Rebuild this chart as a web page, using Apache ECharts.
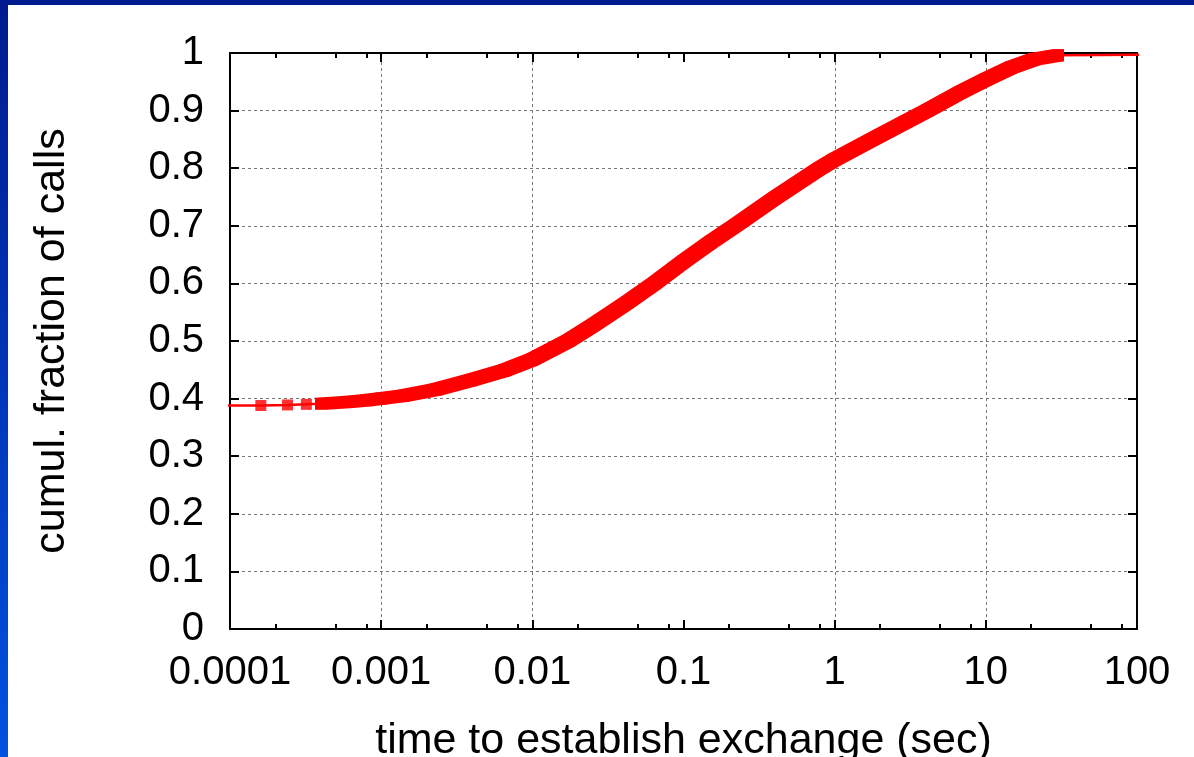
<!DOCTYPE html>
<html>
<head>
<meta charset="utf-8">
<script src="https://cdn.jsdelivr.net/npm/echarts@6/dist/echarts.min.js"></script>
<style>
  html, body { margin: 0; padding: 0; background: #ffffff; overflow: hidden; }
  #chart { position: absolute; left: 0; top: 0; width: 1194px; height: 757px; }
  #topbar { position: absolute; left: 0; top: 0; width: 1194px; height: 5px; background: #001a8f; z-index: 5; }
  #leftbar { position: absolute; left: 0; top: 0; width: 8px; height: 757px; z-index: 5;
             background: linear-gradient(to bottom, #001a8f 0%, #0036b8 50%, #0052e0 100%); }
</style>
</head>
<body>
<div id="chart"></div>
<div id="topbar"></div>
<div id="leftbar"></div>
<script>
// ---- data ----
const xTickLabels = ['0.0001', '0.001', '0.01', '0.1', '1', '10', '100'];
const yTickLabels = ['0', '0.1', '0.2', '0.3', '0.4', '0.5', '0.6', '0.7', '0.8', '0.9', '1'];
const minorTickValues = [2e-4, 5e-4, 8e-4, 2e-3, 5e-3, 8e-3, 0.02, 0.05, 0.08, 0.2, 0.5, 0.8, 2, 5, 8, 20, 50, 80];
const xGridValues = [0.001, 0.01, 1, 10];

// sparse points at the start (individual square markers)
const sparseTimes = [0.00008, 0.00016, 0.00024, 0.00032, 0.0004];
const sparseFrac  = [0.388, 0.388, 0.389, 0.390, 0.391];

// dense part of the CDF (markers overlap into a thick band)
const bandTimes = [0.0004, 0.0006, 0.0008, 0.001, 0.0014, 0.0023, 0.0039, 0.0065, 0.01, 0.0172,
                   0.0255, 0.0424, 0.064, 0.1, 0.15, 0.219, 0.4, 0.79, 1, 2, 4.1, 6.8, 10, 14.7, 20.9, 30];
const bandFrac  = [0.391, 0.394, 0.397, 0.400, 0.405, 0.416, 0.432, 0.449, 0.468, 0.500,
                   0.528, 0.567, 0.600, 0.638, 0.671, 0.700, 0.748, 0.799, 0.815, 0.857, 0.900, 0.932, 0.954, 0.975, 0.989, 0.996];

// tail (thin line)
const tailTimes = [30, 3000];
const tailFrac  = [0.996, 1.0];

const xTitle = 'time to establish exchange (sec)';
const yTitle = 'cumul. fraction of calls';

// ---- build ----
const F = '"Liberation Sans", Arial, Helvetica, sans-serif';
const RED = '#ff0000';
const xMin = 1e-4, xMax = 100;

const pair = (ts, fs) => ts.map((t, i) => [t, fs[i]]);
const linePoints = pair(sparseTimes, sparseFrac).concat(pair(bandTimes, bandFrac).slice(1), pair(tailTimes, tailFrac).slice(1));

function hull(points) {
  const p = points.slice().sort((a, b) => a[0] - b[0] || a[1] - b[1]);
  const cross = (o, a, b) => (a[0] - o[0]) * (b[1] - o[1]) - (a[1] - o[1]) * (b[0] - o[0]);
  const lower = [], upper = [];
  for (const q of p) { while (lower.length >= 2 && cross(lower[lower.length - 2], lower[lower.length - 1], q) <= 0) lower.pop(); lower.push(q); }
  for (let i = p.length - 1; i >= 0; i--) { const q = p[i]; while (upper.length >= 2 && cross(upper[upper.length - 2], upper[upper.length - 1], q) <= 0) upper.pop(); upper.push(q); }
  upper.pop(); lower.pop();
  return lower.concat(upper);
}

const MS = 6; // half marker size in the dense band
function bandItem(params, api) {
  const i = params.dataIndex;
  const j = Math.min(i + 1, bandTimes.length - 1);
  const a = api.coord([bandTimes[i], bandFrac[i]]);
  const b = api.coord([bandTimes[j], bandFrac[j]]);
  const pts = [];
  for (const c of [a, b]) {
    pts.push([c[0] - MS, c[1] - MS], [c[0] + MS, c[1] - MS], [c[0] + MS, c[1] + MS], [c[0] - MS, c[1] + MS]);
  }
  return { type: 'polygon', shape: { points: hull(pts) }, style: { fill: RED } };
}

function minorTickItem(params, api) {
  const v = minorTickValues[params.dataIndex];
  const b = api.coord([v, 0]);
  const t = api.coord([v, 1]);
  const x = Math.round(b[0]);
  const st = { stroke: '#000', lineWidth: 2 };
  return { type: 'group', children: [
    { type: 'line', shape: { x1: x, y1: b[1], x2: x, y2: b[1] - 5 }, style: st },
    { type: 'line', shape: { x1: x, y1: t[1], x2: x, y2: t[1] + 5 }, style: st }
  ]};
}

function xGridItem(params, api) {
  const v = xGridValues[params.dataIndex];
  const b = api.coord([v, 0]);
  const t = api.coord([v, 1]);
  const x = Math.round(b[0]) + 0.5;
  return { type: 'line', shape: { x1: x, y1: b[1], x2: x, y2: t[1] },
           style: { stroke: '#777', lineWidth: 1, lineDash: [3, 3] } };
}

const axisLineStyle = { show: true, onZero: false, lineStyle: { color: '#000', width: 2 } };
const tickStyle = { show: true, inside: true, length: 9, lineStyle: { color: '#000', width: 2 } };
const gridStyle = { show: true, lineStyle: { color: '#777', width: 1, type: [3, 3] } };
const labelFont = { fontSize: 40, color: '#000', fontFamily: F };
const titleFont = { fontSize: 43, color: '#000', fontFamily: F };

const chart = echarts.init(document.getElementById('chart'), null, { renderer: 'canvas', width: 1194, height: 757 });
chart.setOption({
  animation: false,
  backgroundColor: 'transparent',
  grid: { left: 230, top: 53, width: 907, height: 576, containLabel: false, outerBoundsMode: 'none' },
  xAxis: [
    { type: 'log', logBase: 10, min: xMin, max: xMax, splitNumber: 6, position: 'bottom',
      axisLine: axisLineStyle, axisTick: tickStyle, splitLine: { show: false }, minorTick: { show: false },
      axisLabel: Object.assign({ margin: 24, showMinLabel: true, showMaxLabel: true,
        formatter: v => { const k = Math.round(Math.log10(v) - Math.log10(xMin)); return xTickLabels[k] !== undefined ? xTickLabels[k] : ''; } }, labelFont),
      name: xTitle, nameLocation: 'middle', nameGap: 91, nameTextStyle: titleFont },
    { type: 'log', logBase: 10, min: xMin, max: xMax, splitNumber: 6, position: 'top',
      axisLine: axisLineStyle, axisTick: tickStyle, splitLine: { show: false }, axisLabel: { show: false } }
  ],
  yAxis: [
    { type: 'value', min: 0, max: 1, interval: 0.1, position: 'left',
      axisLine: axisLineStyle, axisTick: tickStyle, splitLine: gridStyle,
      axisLabel: Object.assign({ margin: 26, formatter: v => yTickLabels[Math.round(v * 10)] }, labelFont),
      name: yTitle, nameLocation: 'middle', nameGap: 156, nameTextStyle: titleFont },
    { type: 'value', min: 0, max: 1, interval: 0.1, position: 'right',
      axisLine: axisLineStyle, axisTick: tickStyle, splitLine: { show: false }, axisLabel: { show: false } }
  ],
  series: [
    { type: 'custom', xAxisIndex: 0, yAxisIndex: 0, data: xGridValues.map(v => [v, 0]), renderItem: xGridItem, z: 0, silent: true },
    { type: 'line', xAxisIndex: 0, yAxisIndex: 0, data: linePoints, symbol: 'none', clip: true,
      lineStyle: { color: RED, width: 2.5 }, z: 3, silent: true },
    { type: 'scatter', xAxisIndex: 0, yAxisIndex: 0, data: pair(sparseTimes, sparseFrac), symbol: 'rect',
      symbolSize: 11, itemStyle: { color: RED }, z: 4, silent: true, clip: true },
    { type: 'custom', xAxisIndex: 0, yAxisIndex: 0, data: pair(bandTimes, bandFrac), renderItem: bandItem, z: 5, silent: true },
    { type: 'custom', xAxisIndex: 0, yAxisIndex: 0, data: minorTickValues.map(v => [v, 0]), renderItem: minorTickItem, z: 1, silent: true }
  ]
});
</script>
</body>
</html>
